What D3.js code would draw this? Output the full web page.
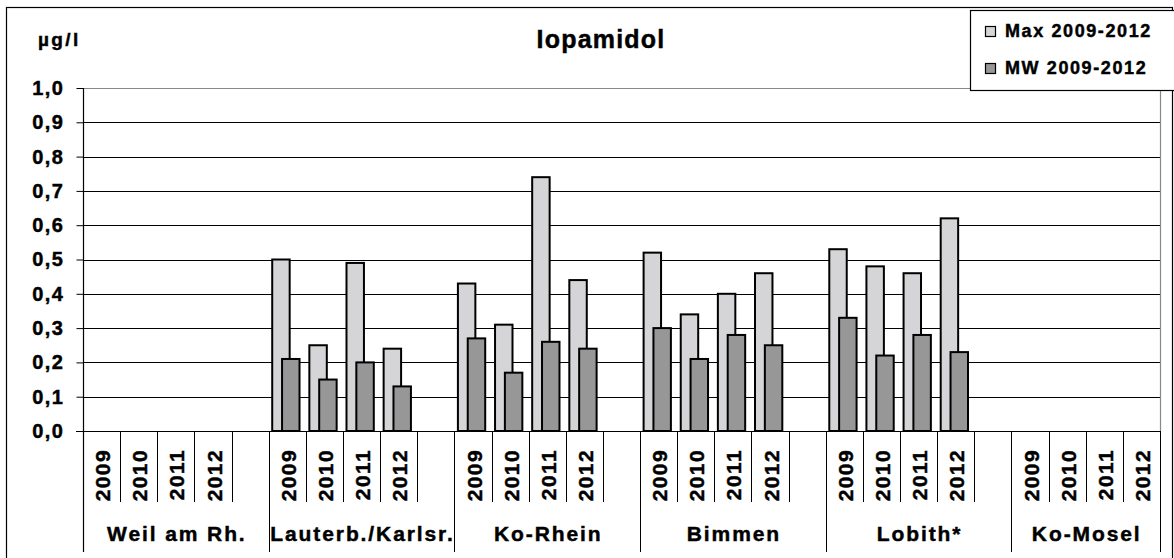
<!DOCTYPE html>
<html>
<head>
<meta charset="utf-8">
<script src="https://cdn.jsdelivr.net/npm/d3@7"></script>
<style>
  html, body { margin: 0; padding: 0; background: #fff; }
  svg { display: block; font-family: "Liberation Sans", Arial, sans-serif; font-weight: bold; }
  svg text { stroke: #000; stroke-width: 0.45px; fill: #000; }
</style>
</head>
<body>
<svg id="chart" width="1174" height="558"></svg>
<script>
// ---- data ----
const stations = ["Weil am Rh.", "Lauterb./Karlsr.", "Ko-Rhein", "Bimmen", "Lobith*", "Ko-Mosel"];
const years = ["2009", "2010", "2011", "2012"];
const seriesNames = ["Max 2009-2012", "MW 2009-2012"];
const maxValues = [
  [null, null, null, null],
  [0.50, 0.25, 0.49, 0.24],
  [0.43, 0.31, 0.74, 0.44],
  [0.52, 0.34, 0.40, 0.46],
  [0.53, 0.48, 0.46, 0.62],
  [null, null, null, null]
];
const mwValues = [
  [null, null, null, null],
  [0.21, 0.15, 0.20, 0.13],
  [0.27, 0.17, 0.26, 0.24],
  [0.30, 0.21, 0.28, 0.25],
  [0.33, 0.22, 0.28, 0.23],
  [null, null, null, null]
];
const yTicks = [0, 0.1, 0.2, 0.3, 0.4, 0.5, 0.6, 0.7, 0.8, 0.9, 1.0];
const yTickLabels = ["0,0", "0,1", "0,2", "0,3", "0,4", "0,5", "0,6", "0,7", "0,8", "0,9", "1,0"];
const title = "Iopamidol";
const unit = "µg/l";

// ---- layout ----
const svg = d3.select("#chart");
const plot = { left: 83, right: 1160, top: 88, bottom: 431 };
const colMax = "#d5d5d8", colMW = "#979797";

// slots: 4 years per station, plus an empty slot between stations
const slots = [];
stations.forEach((s, i) => {
  years.forEach(y => slots.push({ station: s, year: y, key: s + "|" + y }));
  if (i < stations.length - 1) slots.push({ station: s, year: null, key: s + "|gap" });
});

const x = d3.scaleBand().domain(slots.map(d => d.key)).range([plot.left, plot.right]).padding(0);
const y = d3.scaleLinear().domain([0, 1]).range([plot.bottom, plot.top]);
const bw = x.bandwidth();

// outer border
svg.append("rect").attr("x", 6.5).attr("y", 7.5).attr("width", 1166).attr("height", 560)
  .attr("fill", "none").attr("stroke", "#000").attr("stroke-width", 1.2);

// gridlines
svg.append("g").selectAll("line").data(yTicks.filter(t => t > 0 && t < 1)).join("line")
  .attr("x1", plot.left).attr("x2", plot.right)
  .attr("y1", d => Math.round(y(d)) + 0.5).attr("y2", d => Math.round(y(d)) + 0.5)
  .attr("stroke", "#000").attr("stroke-width", 1);

// plot area border (top/right) gray
svg.append("path")
  .attr("d", `M${plot.left},${Math.round(y(1)) + 0.5}H${plot.right + 0.5}V${plot.bottom}`)
  .attr("fill", "none").attr("stroke", "#888").attr("stroke-width", 1.2);

// y axis
const yAxis = d3.axisLeft(y).tickValues(yTicks).tickSize(7).tickFormat((d, i) => yTickLabels[i]);
const yg = svg.append("g").attr("transform", `translate(${plot.left + 0.5},0)`).call(yAxis);
yg.select(".domain").remove();
yg.selectAll(".tick line").attr("stroke", "#000");
yg.selectAll(".tick text")
  .attr("x", -19).attr("font-size", 20).attr("font-weight", "bold")
  .attr("font-family", "Liberation Sans, Arial, sans-serif")
  .style("letter-spacing", "1.5px");

// bars
const barW = bw * 0.47;
const flat = [];
stations.forEach((s, i) => years.forEach((yr, j) => {
  flat.push({ key: s + "|" + yr, max: maxValues[i][j], mw: mwValues[i][j] });
}));
const bars = svg.append("g");
bars.selectAll("rect.max").data(flat.filter(d => d.max != null)).join("rect")
  .attr("class", "max")
  .attr("x", d => x(d.key) + bw * 0.095).attr("width", barW)
  .attr("y", d => y(d.max)).attr("height", d => y(0) - y(d.max))
  .attr("fill", colMax).attr("stroke", "#000").attr("stroke-width", 2);
bars.selectAll("rect.mw").data(flat.filter(d => d.mw != null)).join("rect")
  .attr("class", "mw")
  .attr("x", d => x(d.key) + bw * 0.36).attr("width", barW)
  .attr("y", d => y(d.mw)).attr("height", d => y(0) - y(d.mw))
  .attr("fill", colMW).attr("stroke", "#000").attr("stroke-width", 2);

// left axis line (extends down through category labels)
svg.append("line").attr("x1", plot.left + 0.5).attr("x2", plot.left + 0.5)
  .attr("y1", plot.top).attr("y2", 552).attr("stroke", "#000").attr("stroke-width", 1.2);

// x axis line
svg.append("line").attr("x1", plot.left - 7).attr("x2", plot.right + 0.5)
  .attr("y1", plot.bottom + 0.5).attr("y2", plot.bottom + 0.5)
  .attr("stroke", "#000").attr("stroke-width", 1.2);

// category ticks
const catG = svg.append("g");
slots.forEach((d, i) => {
  if (i === 0) return;
  const xb = Math.round(x(d.key)) + 0.5;
  const isGroupStart = d.year === "2009";
  catG.append("line").attr("x1", xb).attr("x2", xb)
    .attr("y1", plot.bottom).attr("y2", isGroupStart ? 552 : 502)
    .attr("stroke", "#000").attr("stroke-width", 1);
});
catG.append("line").attr("x1", plot.right + 0.5).attr("x2", plot.right + 0.5)
  .attr("y1", plot.bottom).attr("y2", 552).attr("stroke", "#000").attr("stroke-width", 1);

// year labels
catG.selectAll("text.yr").data(slots.filter(d => d.year)).join("text")
  .attr("class", "yr")
  .attr("transform", d => `translate(${x(d.key) + bw / 2 + 1},449) rotate(-90)`)
  .attr("text-anchor", "end").attr("dy", "0.36em")
  .attr("font-size", 21).style("letter-spacing", "1.4px")
  .text(d => d.year);

// station labels
catG.selectAll("text.st").data(stations).join("text")
  .attr("class", "st")
  .attr("x", s => {
    const ks = slots.filter(d => d.station === s && d.year);
    return (x(ks[0].key) + x(ks[ks.length - 1].key) + bw) / 2 + (s === "Ko-Mosel" ? 0 : bw / 2) + 1;
  })
  .attr("y", 541).attr("text-anchor", "middle")
  .attr("font-size", 21).style("letter-spacing", "1.9px")
  .text(s => s);

// title and unit
svg.append("text").attr("x", 601).attr("y", 48).attr("text-anchor", "middle")
  .attr("font-size", 25).style("letter-spacing", "1.2px").text(title);
svg.append("text").attr("x", 38).attr("y", 46)
  .attr("font-size", 19).style("letter-spacing", "2.4px").text(unit);

// legend
const lg = svg.append("g");
lg.append("rect").attr("x", 970.5).attr("y", 10.5).attr("width", 210).attr("height", 80)
  .attr("fill", "#fff").attr("stroke", "#000").attr("stroke-width", 1.2);
const legendColors = [colMax, colMW];
seriesNames.forEach((n, i) => {
  const yy = 37 + i * 37;
  lg.append("rect").attr("x", 985.5).attr("y", yy - 10.5).attr("width", 10).attr("height", 10)
    .attr("fill", legendColors[i]).attr("stroke", "#000").attr("stroke-width", 1.2);
  lg.append("text").attr("x", 1005).attr("y", yy).attr("font-size", 18)
    .style("letter-spacing", "1.6px").text(n);
});
</script>
</body>
</html>
